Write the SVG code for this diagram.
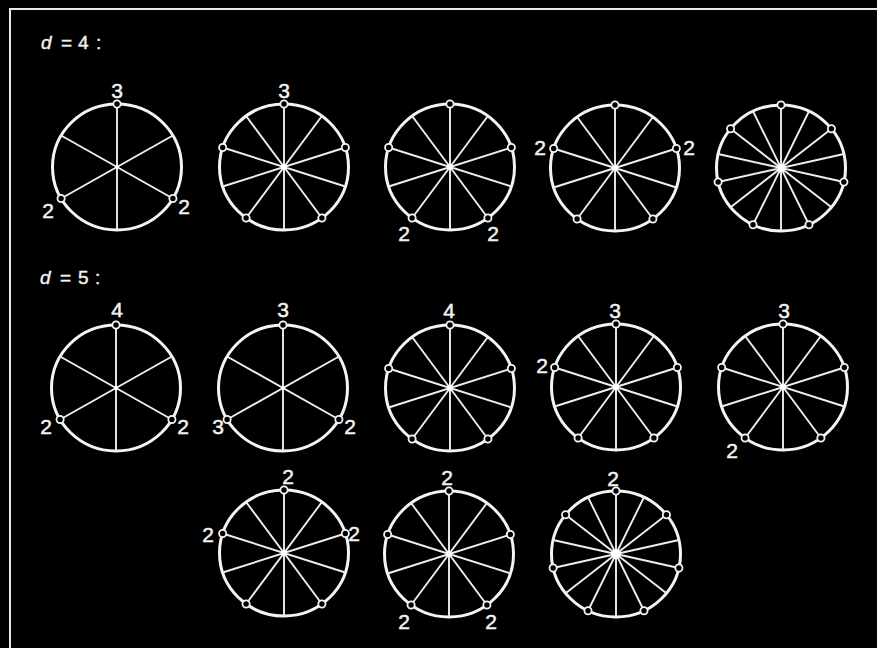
<svg xmlns="http://www.w3.org/2000/svg" xmlns:xlink="http://www.w3.org/1999/xlink" width="877" height="648" viewBox="0 0 877 648">
<style>
.rim{fill:none;stroke:#f4f4f4;stroke-width:3}
.sp{fill:none;stroke:#eeeeee;stroke-width:1.9}
.nd{fill:#000;stroke:#f4f4f4;stroke-width:1.8}
.hub{fill:#fff}
.lb{font-family:"Liberation Sans",Arial,sans-serif;font-size:21px;fill:#f2f2f2;stroke:#f2f2f2;stroke-width:0.5;text-anchor:middle}
.hd{font-family:"Liberation Sans",Arial,sans-serif;font-size:19px;fill:#f2f2f2;stroke:#f2f2f2;stroke-width:0.4}
</style>
<defs>
<g id="w6">
<ellipse class="rim" rx="64.5" ry="63"/>
<path class="sp" d="M0,-63V63M-55.9,-31.5L55.9,31.5M-55.9,31.5L55.9,-31.5"/>
<circle class="hub" r="2"/>
<circle class="nd" cx="0" cy="-63" r="3.6"/>
<circle class="nd" cx="-55.9" cy="31.5" r="3.6"/>
<circle class="nd" cx="55.9" cy="31.5" r="3.6"/>
</g>
<g id="w10">
<ellipse class="rim" rx="64.5" ry="63"/>
<path class="sp" d="M0,-63V63M37.91,-50.97L-37.91,50.97M61.34,-19.47L-61.34,19.47M61.34,19.47L-61.34,-19.47M37.91,50.97L-37.91,-50.97"/>
<circle class="hub" r="2.8"/>
<circle class="nd" cx="0" cy="-63" r="3.6"/>
<circle class="nd" cx="-61.34" cy="-19.47" r="3.6"/>
<circle class="nd" cx="61.34" cy="-19.47" r="3.6"/>
<circle class="nd" cx="-37.91" cy="50.97" r="3.6"/>
<circle class="nd" cx="37.91" cy="50.97" r="3.6"/>
</g>
<g id="w14">
<ellipse class="rim" rx="64.5" ry="63"/>
<path class="sp" d="M0,-63V63M27.99,-56.76L-27.99,56.76M50.43,-39.28L-50.43,39.28M62.88,-14.02L-62.88,14.02M62.88,14.02L-62.88,-14.02M50.43,39.28L-50.43,-39.28M27.99,56.76L-27.99,-56.76"/>
<circle class="hub" r="3.5"/>
<circle class="nd" cx="0" cy="-63" r="3.6"/>
<circle class="nd" cx="-50.43" cy="-39.28" r="3.6"/>
<circle class="nd" cx="50.43" cy="-39.28" r="3.6"/>
<circle class="nd" cx="-62.88" cy="14.02" r="3.6"/>
<circle class="nd" cx="62.88" cy="14.02" r="3.6"/>
<circle class="nd" cx="-27.99" cy="56.76" r="3.6"/>
<circle class="nd" cx="27.99" cy="56.76" r="3.6"/>
</g>
</defs>
<rect x="0" y="0" width="877" height="648" fill="#000"/>
<path d="M10,648V9H877" fill="none" stroke="#e8e8e8" stroke-width="2"/>

<text class="hd" y="49"><tspan x="41" font-style="italic">d</tspan><tspan x="61">=</tspan><tspan x="78">4</tspan><tspan x="96">:</tspan></text>
<text class="hd" y="284"><tspan x="40" font-style="italic">d</tspan><tspan x="60">=</tspan><tspan x="78">5</tspan><tspan x="95">:</tspan></text>

<g id="connectors"/>

<g id="r1c1"><use xlink:href="#w6" transform="translate(117,167)"/>
<text class="lb" x="117" y="98">3</text><text class="lb" x="48" y="218">2</text><text class="lb" x="184" y="214">2</text></g>
<g id="r1c2"><use xlink:href="#w10" transform="translate(284,167)"/>
<text class="lb" x="284" y="98">3</text></g>
<g id="r1c3"><use xlink:href="#w10" transform="translate(450,167)"/>
<text class="lb" x="404" y="241">2</text><text class="lb" x="493" y="241">2</text></g>
<g id="r1c4"><use xlink:href="#w10" transform="translate(615,168)"/>
<text class="lb" x="540" y="155">2</text><text class="lb" x="689" y="155">2</text></g>
<g id="r1c5"><use xlink:href="#w14" transform="translate(781,168)"/></g>

<g id="r2c1"><use xlink:href="#w6" transform="translate(116,388)"/>
<text class="lb" x="117" y="317">4</text><text class="lb" x="46" y="434">2</text><text class="lb" x="183" y="434">2</text></g>
<g id="r2c2"><use xlink:href="#w6" transform="translate(283,388)"/>
<text class="lb" x="283" y="317">3</text><text class="lb" x="218" y="434">3</text><text class="lb" x="350" y="434">2</text></g>
<g id="r2c3"><use xlink:href="#w10" transform="translate(450,388)"/>
<text class="lb" x="449" y="318">4</text></g>
<g id="r2c4"><use xlink:href="#w10" transform="translate(616,387)"/>
<text class="lb" x="615" y="318">3</text><text class="lb" x="542" y="373">2</text></g>
<g id="r2c5"><use xlink:href="#w10" transform="translate(783,387)"/>
<text class="lb" x="784" y="318">3</text><text class="lb" x="732" y="458">2</text></g>

<g id="r3c1"><use xlink:href="#w10" transform="translate(284,553)"/>
<text class="lb" x="288" y="484">2</text><text class="lb" x="208" y="542">2</text><text class="lb" x="354" y="541">2</text></g>
<g id="r3c2"><use xlink:href="#w10" transform="translate(449,554)"/>
<text class="lb" x="447" y="485">2</text><text class="lb" x="404" y="629">2</text><text class="lb" x="491" y="629">2</text></g>
<g id="r3c3"><use xlink:href="#w14" transform="translate(616,554)"/>
<circle class="hub" cx="616" cy="554" r="5"/>
<text class="lb" x="613" y="486">2</text></g>
</svg>
